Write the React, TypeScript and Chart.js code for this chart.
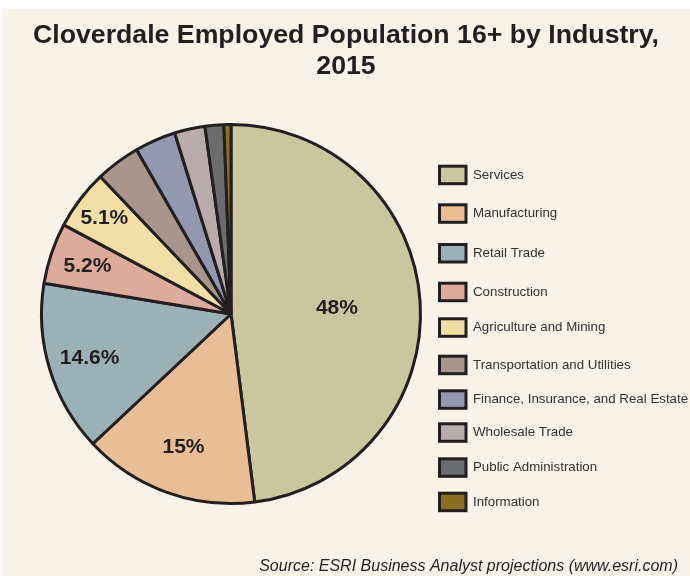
import React, { useEffect, useRef } from "react";
import { Chart, registerables } from "chart.js";

Chart.register(...registerables);

const TITLE_LINES = ["Cloverdale Employed Population 16+ by Industry,", "2015"];
const SOURCE_TEXT = "Source: ESRI Business Analyst projections (www.esri.com)";

const INDUSTRIES = [
  "Services",
  "Manufacturing",
  "Retail Trade",
  "Construction",
  "Agriculture and Mining",
  "Transportation and Utilities",
  "Finance, Insurance, and Real Estate",
  "Wholesale Trade",
  "Public Administration",
  "Information",
];

const SHARES = [48, 15, 14.6, 5.2, 5.1, 3.8, 3.5, 2.6, 1.6, 0.6];

const COLORS = [
  "#c9c6a0",
  "#e9bd95",
  "#9bb0b7",
  "#ddab9d",
  "#f1dfa6",
  "#a8958b",
  "#9498ae",
  "#b9aaac",
  "#6b6c6e",
  "#8b6e26",
];

// layout / style constants
const W = 690;
const H = 576;
const BG = "#f8f2e7";
const DARK = "#231f20";
const FONT = "'Liberation Sans', Arial, Helvetica, sans-serif";
const LABEL_MIN = 5;
const LABEL_RADIUS = [0.56, 0.74, 0.78, 0.8, 0.84];
const LEGEND_ROW_Y = [174.7, 213.3, 253, 291.7, 327.3, 364.7, 399.3, 432.3, 467.3, 501.7];

const decorPlugin = {
  id: "decor",
  afterDatasetsDraw(chart: any) {
    const ctx = chart.ctx as CanvasRenderingContext2D;
    ctx.save();

    // title
    ctx.fillStyle = DARK;
    ctx.textAlign = "center";
    ctx.textBaseline = "alphabetic";
    ctx.font = `bold 26.7px ${FONT}`;
    ctx.fillText(TITLE_LINES[0], 346, 43);
    ctx.fillText(TITLE_LINES[1], 346, 74);

    // slice labels
    const meta = chart.getDatasetMeta(0);
    ctx.font = `bold 21px ${FONT}`;
    ctx.textBaseline = "middle";
    meta.data.forEach((arc: any, i: number) => {
      const v = SHARES[i];
      if (v < LABEL_MIN) return;
      const p = arc.getProps(["x", "y", "startAngle", "endAngle", "outerRadius"], true);
      const mid = (p.startAngle + p.endAngle) / 2;
      const r = p.outerRadius * (LABEL_RADIUS[i] ?? 0.75);
      ctx.fillText(`${v}%`, p.x + Math.cos(mid) * r, p.y + Math.sin(mid) * r + 1);
    });

    // legend
    ctx.textAlign = "left";
    ctx.font = `13.3px ${FONT}`;
    INDUSTRIES.forEach((name, i) => {
      const cy = LEGEND_ROW_Y[i];
      ctx.fillStyle = COLORS[i];
      ctx.fillRect(439.5, cy - 8.5, 26.5, 17.5);
      ctx.strokeStyle = DARK;
      ctx.lineWidth = 3;
      ctx.strokeRect(439.5, cy - 8.5, 26.5, 17.5);
      ctx.fillStyle = "#333333";
      ctx.fillText(name, 473, cy + 0.5);
    });

    // source
    ctx.textAlign = "right";
    ctx.textBaseline = "alphabetic";
    ctx.fillStyle = DARK;
    ctx.font = `italic 16px ${FONT}`;
    ctx.fillText(SOURCE_TEXT, 678, 571);

    ctx.restore();
  },
};

export default function App() {
  const ref = useRef<HTMLCanvasElement | null>(null);

  useEffect(() => {
    if (!ref.current) return;
    const chart = new Chart(ref.current, {
      type: "pie",
      data: {
        labels: INDUSTRIES,
        datasets: [
          {
            data: SHARES,
            backgroundColor: COLORS,
            borderColor: DARK,
            borderWidth: 3,
          },
        ],
      },
      options: {
        responsive: false,
        animation: false,
        radius: 189.5,
        layout: { padding: { left: 0, right: 228, top: 52, bottom: 0 } },
        plugins: {
          legend: { display: false },
          tooltip: { enabled: false },
          title: { display: false },
        },
      } as any,
      plugins: [decorPlugin],
    });
    return () => chart.destroy();
  }, []);

  return (
    <div style={{ position: "absolute", left: 0, top: 0, width: W, height: H, background: "#ffffff", overflow: "hidden" }}>
      <div style={{ position: "absolute", left: 2, top: 9, right: 0, bottom: 0, background: BG }} />
      <canvas ref={ref} width={W} height={H} style={{ position: "absolute", left: 0, top: 0, width: W, height: H }} />
    </div>
  );
}
